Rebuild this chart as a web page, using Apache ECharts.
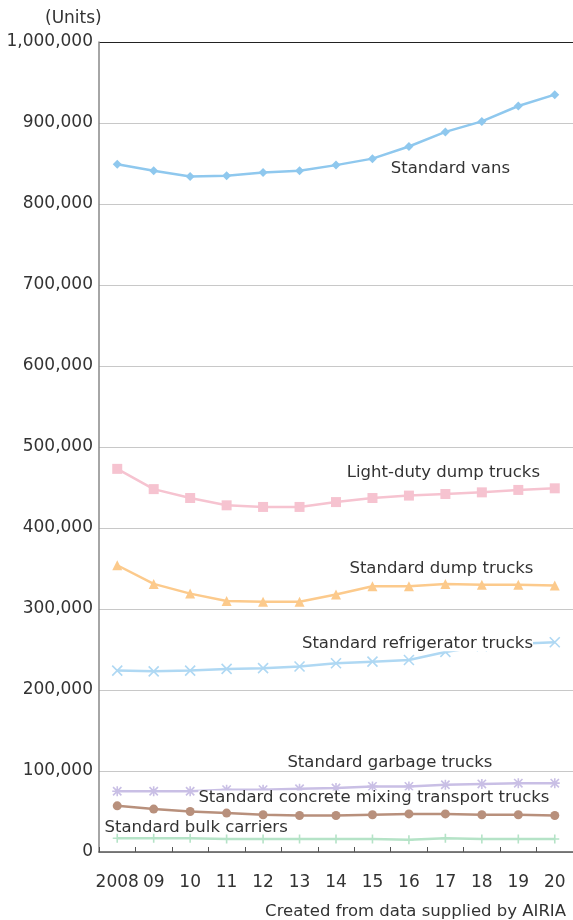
<!DOCTYPE html>
<html>
<head>
<meta charset="utf-8">
<script src="https://cdn.jsdelivr.net/npm/echarts@6/dist/echarts.min.js"></script>
<style>html,body{margin:0;padding:0;background:#fff;}#c{width:573px;height:920px;}</style>
</head>
<body>
<div id="c"></div>
<script>
var categories = ['2008','09','10','11','12','13','14','15','16','17','18','19','20'];
var yTicks = [0,100000,200000,300000,400000,500000,600000,700000,800000,900000,1000000];

var seriesNames = [
  'Standard vans',
  'Light-duty dump trucks',
  'Standard dump trucks',
  'Standard refrigerator trucks',
  'Standard garbage trucks',
  'Standard concrete mixing transport trucks',
  'Standard bulk carriers'
];
var vans          = [849000,841000,834000,835000,839000,841000,848000,856000,871000,889000,902000,921000,935000];
var lightDump     = [473000,448000,437000,428000,426000,426000,432000,437000,440000,442000,444000,447000,449000];
var stdDump       = [354000,331000,319000,310000,309000,309000,318000,328000,328000,331000,330000,330000,329000];
var refrigerator  = [224000,223000,224000,226000,227000,229000,233000,235000,237000,247000,254000,257000,259000];
var garbage       = [75000,75000,75000,77000,77000,78000,79000,81000,81000,83000,84000,85000,85000];
var concrete      = [57000,53000,50000,48000,46000,45000,45000,46000,47000,47000,46000,46000,45000];
var bulk          = [17000,17000,17000,16000,16000,16000,16000,16000,15000,17000,16000,16000,16000];

var FONT = '"DejaVu Sans", Verdana, sans-serif';

function withLabel(arr, idx, text, offset, bg) {
  return arr.map(function (v, i) {
    if (i !== idx) return v;
    return {
      value: v,
      label: {
        show: true, position: 'inside', offset: offset,
        formatter: text, color: '#333', fontSize: 16.5, fontFamily: FONT,
        lineHeight: 15,
        backgroundColor: bg ? '#fff' : 'transparent', padding: 0
      }
    };
  });
}

function mk(name, data, color, symbol, size, stroked) {
  var s = {
    name: name, type: 'line', data: data,
    symbol: symbol, symbolSize: size,
    lineStyle: { color: color, width: 2.5 },
    itemStyle: { color: color },
    label: { show: false },
    emphasis: { disabled: true },
    z: 2
  };
  if (stroked) {
    s.itemStyle = { color: 'rgba(0,0,0,0)', borderColor: color, borderWidth: 1.6 };
  }
  return s;
}

var chart = echarts.init(document.getElementById('c'), null, { renderer: 'canvas' });
var splitColors = yTicks.map(function (t, i) { return i === yTicks.length - 1 ? '#222' : '#c8c8c8'; });

chart.setOption({
  animation: false,
  backgroundColor: '#fff',
  textStyle: { fontFamily: FONT },
  title: [
    { text: '(Units)', left: 40, top: 5, textStyle: { fontSize: 17, fontWeight: 'normal', color: '#333', fontFamily: FONT } },
    { text: 'Created from data supplied by AIRIA', right: 2, top: 898, textStyle: { fontSize: 16.5, fontWeight: 'normal', color: '#333', fontFamily: FONT } }
  ],
  grid: { left: 99, right: -3, top: 42, bottom: 68, containLabel: false },
  xAxis: {
    type: 'category', data: categories, boundaryGap: true,
    axisLine: { lineStyle: { color: '#555', width: 1.5 } },
    axisTick: { show: true, inside: true, length: 5, lineStyle: { color: '#555' } },
    axisLabel: { color: '#333', fontSize: 17, margin: 22, fontFamily: FONT, interval: 0 },
    splitLine: { show: false }
  },
  yAxis: {
    type: 'value', min: 0, max: 1000000, interval: 100000,
    axisLine: { show: true, lineStyle: { color: '#888', width: 1.5 } },
    axisTick: { show: false },
    axisLabel: {
      color: '#333', fontSize: 17, margin: 6, fontFamily: FONT,
      formatter: function (v) { return v.toString().replace(/\B(?=(\d{3})+(?!\d))/g, ','); }
    },
    splitLine: { show: true, lineStyle: { color: splitColors, width: 1.2 } }
  },
  series: [
    mk(seriesNames[0], withLabel(vans, 9, seriesNames[0], [5, 37], false), '#8fc8ee', 'diamond', 9),
    mk(seriesNames[1], withLabel(lightDump, 9, seriesNames[1], [-2, -21], false), '#f6c3d0', 'rect', 10),
    mk(seriesNames[2], withLabel(stdDump, 9, seriesNames[2], [-4, -15], false), '#fcca8c', 'triangle', 10),
    mk(seriesNames[3], withLabel(refrigerator, 7, seriesNames[3], [45, -18], true), '#afd8f3', 'path://M0,0L10,10M10,0L0,10', 10, true),
    mk(seriesNames[4], withLabel(garbage, 8, seriesNames[4], [-19, -24], false), '#c9bfe5', 'path://M0,0L10,10M10,0L0,10M5,-1L5,11M-1,5L11,5', 10, true),
    mk(seriesNames[5], withLabel(concrete, 8, seriesNames[5], [-35, -16], true), '#b8907c', 'circle', 9),
    mk(seriesNames[6], withLabel(bulk, 2, seriesNames[6], [6, -11], false), '#b5e3c7', 'path://M5,0L5,10M0,5L10,5', 9, true)
  ]
});
</script>
</body>
</html>
